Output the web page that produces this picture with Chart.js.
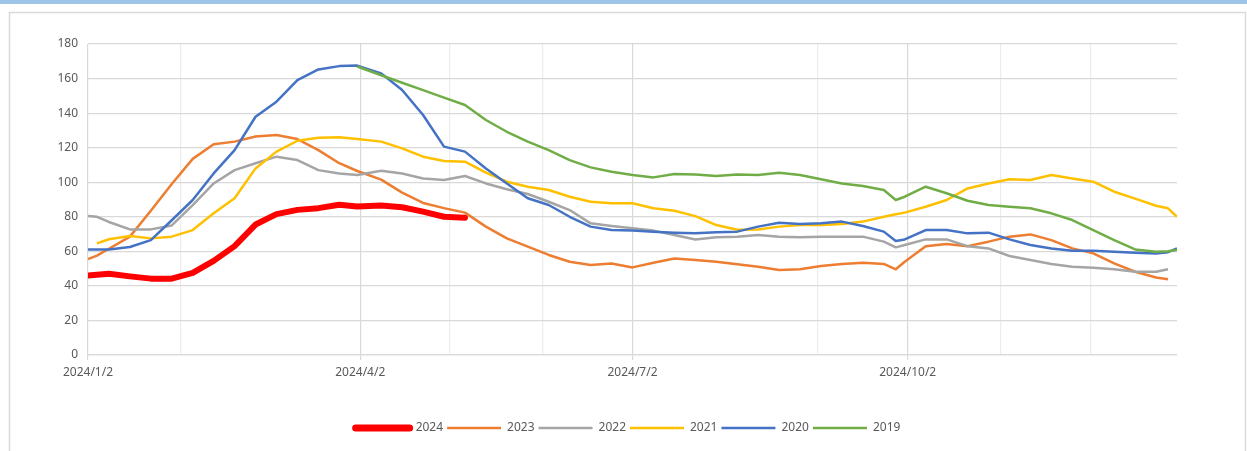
<!DOCTYPE html>
<html>
<head>
<meta charset="utf-8">
<script src="https://cdn.jsdelivr.net/npm/chart.js@4.4.1/dist/chart.umd.min.js"></script>
<style>
  html, body { margin: 0; padding: 0; background: #fff; }
  canvas { display: block; }
</style>
</head>
<body>
<canvas id="myChart" width="1247" height="451"></canvas>
<script>
// day offsets counted from 2024/1/2
const days = [0, 3, 7, 14, 21, 28, 35, 42, 49, 56, 63, 70, 77, 84, 90,
  98, 105, 112, 119, 126, 133, 140, 147, 154, 161, 168, 175, 182, 189, 196, 203, 210,
  217, 224, 231, 238, 245, 252, 259, 266, 270, 273, 280, 287, 294, 301, 308, 315,
  322, 329, 336, 343, 350, 357, 361, 364];

const data2024 = [46, 46.5, 47, 45.5, 44.2, 44.2, 47.5, 54.5, 63, 75.5, 81.5, 84, 85, 87, 86,
  86.5, 85.5, 83, 80, 79.5, null, null, null, null, null, null, null, null, null, null, null, null,
  null, null, null, null, null, null, null, null, null, null, null, null, null, null, null, null,
  null, null, null, null, null, null, null, null];
const data2023 = [55.5, 57.5, 61.5, 68.5, 83.5, 99, 113.5, 122, 123.5, 126.5, 127.3, 125, 118.6, 111, 106.5,
  101.5, 94, 88, 85, 82.4, 74.3, 67.5, 62.7, 57.9, 54, 52.1, 53, 50.7, 53.4, 55.9, 55, 54,
  52.5, 51.1, 49.2, 49.6, 51.5, 52.7, 53.4, 52.7, 49.6, 54, 63, 64.2, 63, 65.6, 68.5, 69.8,
  66.5, 61.7, 58.8, 53, 48.2, 44.9, 43.8, null];
const data2022 = [80.5, 80, 77, 72.7, 72.7, 75, 86.8, 99.3, 107, 111, 114.8, 112.8, 107, 105, 104.2,
  106.7, 105.1, 102.2, 101.3, 103.6, 99.3, 95.9, 93.2, 88.7, 83.9, 76.2, 74.7, 73.3, 72, 69.4, 66.9, 68.1,
  68.5, 69.4, 68.5, 68.1, 68.5, 68.5, 68.5, 65.6, 62.3, 63.7, 66.9, 66.9, 63, 61.7, 57.3, 55,
  52.7, 51.1, 50.5, 49.6, 48.2, 48.2, 49.6, null];
const data2021 = [null, 64.6, 67, 68.9, 67.5, 68.5, 72.3, 82, 90.7, 108, 117.7, 124, 125.8, 126, 125,
  123.5, 119.6, 114.8, 112.3, 111.9, 105.5, 100.3, 97.4, 95.5, 91.6, 88.7, 87.8, 87.8, 84.9, 83.5, 80.4, 75.2,
  72.5, 72.7, 74.3, 75.2, 75.2, 75.8, 77.2, 80, 81.5, 82.4, 85.8, 89.7, 96.4, 99.3, 101.7, 101.3,
  104.2, 102.2, 100.3, 94.5, 90.5, 86.4, 84.9, 80];
const data2020 = [61.1, 61.1, 61.1, 62.5, 66.5, 78, 89.7, 105.1, 118.6, 137.9, 146.6, 159.1, 165.3, 167.2, 167.5,
  163, 153.4, 138.9, 120.6, 117.7, 108, 99.3, 90.7, 86.8, 80, 74.3, 72.3, 72, 71.4, 70.8, 70.4, 71,
  71.4, 74.3, 76.6, 75.8, 76.2, 77.2, 74.7, 71.4, 66, 66.9, 72.3, 72.3, 70.4, 70.8, 66.9, 63.7,
  61.7, 60.4, 60.4, 59.8, 59.2, 58.8, 59.5, 61.7];
const data2019 = [null, null, null, null, null, null, null, null, null, null, null, null, null, null, 167,
  161.9, 157.6, 153.3, 149, 144.7, 136, 129.2, 123.5, 118.6, 112.8, 108.6, 106.1, 104.2, 102.8, 104.7, 104.5, 103.6,
  104.5, 104.2, 105.5, 104.2, 101.7, 99.3, 97.8, 95.5, 89.7, 91.6, 97.4, 93.6, 89.3, 86.8, 85.8, 84.9,
  82, 78.1, 72.3, 66.5, 61.1, 59.8, 60, 60.8];

// vertical gridlines (month starts) and the labelled ones
const gridDays = [0, 31, 91, 121, 152, 182, 244, 274, 305, 335];
const majorDays = [0, 91, 182, 274];
const majorLabels = ['2024/1/2', '2024/4/2', '2024/7/2', '2024/10/2'];

const seriesNames = ['2024', '2023', '2022', '2021', '2020', '2019'];
const seriesData = [data2024, data2023, data2022, data2021, data2020, data2019];
const seriesColors = ['#ff0000', '#ed7d31', '#a5a5a5', '#ffc000', '#4472c4', '#70ad47'];

const toPoints = vals => days.map((d, i) => ({x: d, y: vals[i]}));

const frame = {
  id: 'frame',
  afterLayout(chart) {
    // centre the legend under the whole frame, not just the plot
    if (chart.legend) {
      chart.legend.left = 79;
      chart.legend.width = chart.legend.right - 79;
    }
  },
  beforeDraw(chart) {
    const c = chart.ctx;
    c.save();
    c.fillStyle = '#ffffff';
    c.fillRect(0, 0, chart.width, chart.height);
    c.fillStyle = '#9dc3e6';
    c.fillRect(0, 0, chart.width, 4);
    c.strokeStyle = '#d9d9d9';
    c.lineWidth = 1.5;
    c.strokeRect(9.5, 12.5, 1236, 470);
    c.restore();
  }
};

const font = {family: '"Noto Sans", sans-serif', size: 12};

const config = {
  type: 'line',
  data: {
    datasets: seriesNames.map((name, i) => ({
      label: name,
      data: toPoints(seriesData[i]),
      borderColor: seriesColors[i],
      backgroundColor: seriesColors[i],
      borderWidth: i === 0 ? 6 : 2.5,
      borderCapStyle: i === 0 ? 'round' : 'butt',
      borderJoinStyle: 'round',
      pointRadius: 0,
      tension: 0,
      order: 5 - i
    }))
  },
  options: {
    responsive: false,
    animation: false,
    devicePixelRatio: 1,
    layout: {padding: {left: 0, top: 44, right: 70, bottom: 7}},
    plugins: {
      tooltip: {enabled: false},
      legend: {
        position: 'bottom',
        labels: {
          usePointStyle: true,
          pointStyle: 'line',
          pointStyleWidth: 54,
          padding: 4,
          color: '#595959',
          font: font,
          sort: (a, b) => a.datasetIndex - b.datasetIndex,
          generateLabels: chart => {
            const items = Chart.defaults.plugins.legend.labels.generateLabels(chart);
            items.forEach(it => {
              if (it.datasetIndex === 0) { it.lineCap = 'round'; it.lineWidth = 7; }
            });
            return items;
          }
        }
      }
    },
    scales: {
      x: {
        type: 'linear',
        min: 0,
        max: 364,
        afterBuildTicks: s => { s.ticks = gridDays.map(v => ({value: v})); },
        afterFit: s => { s.height = 63; },
        ticks: {
          autoSkip: false,
          maxRotation: 0,
          padding: 5,
          color: '#595959',
          font: font,
          callback: v => {
            const k = majorDays.indexOf(v);
            return k >= 0 ? majorLabels[k] : '';
          }
        },
        grid: {
          color: ctx => majorDays.includes(ctx.tick.value) ? '#d9d9d9' : '#ececec',
          tickColor: ctx => majorDays.includes(ctx.tick.value) ? '#d9d9d9' : 'rgba(0,0,0,0)',
          tickLength: 5,
          lineWidth: 1.2
        },
        border: {display: true, color: '#d9d9d9', width: 1.2}
      },
      y: {
        min: 0,
        max: 180,
        afterFit: s => { s.width = 88; },
        ticks: {stepSize: 20, padding: 10, color: '#595959', font: font},
        grid: {color: '#d9d9d9', drawTicks: false, lineWidth: 1.2},
        border: {display: false}
      }
    }
  },
  plugins: [frame]
};

const myChart = new Chart(document.getElementById('myChart'), config);
</script>
</body>
</html>
